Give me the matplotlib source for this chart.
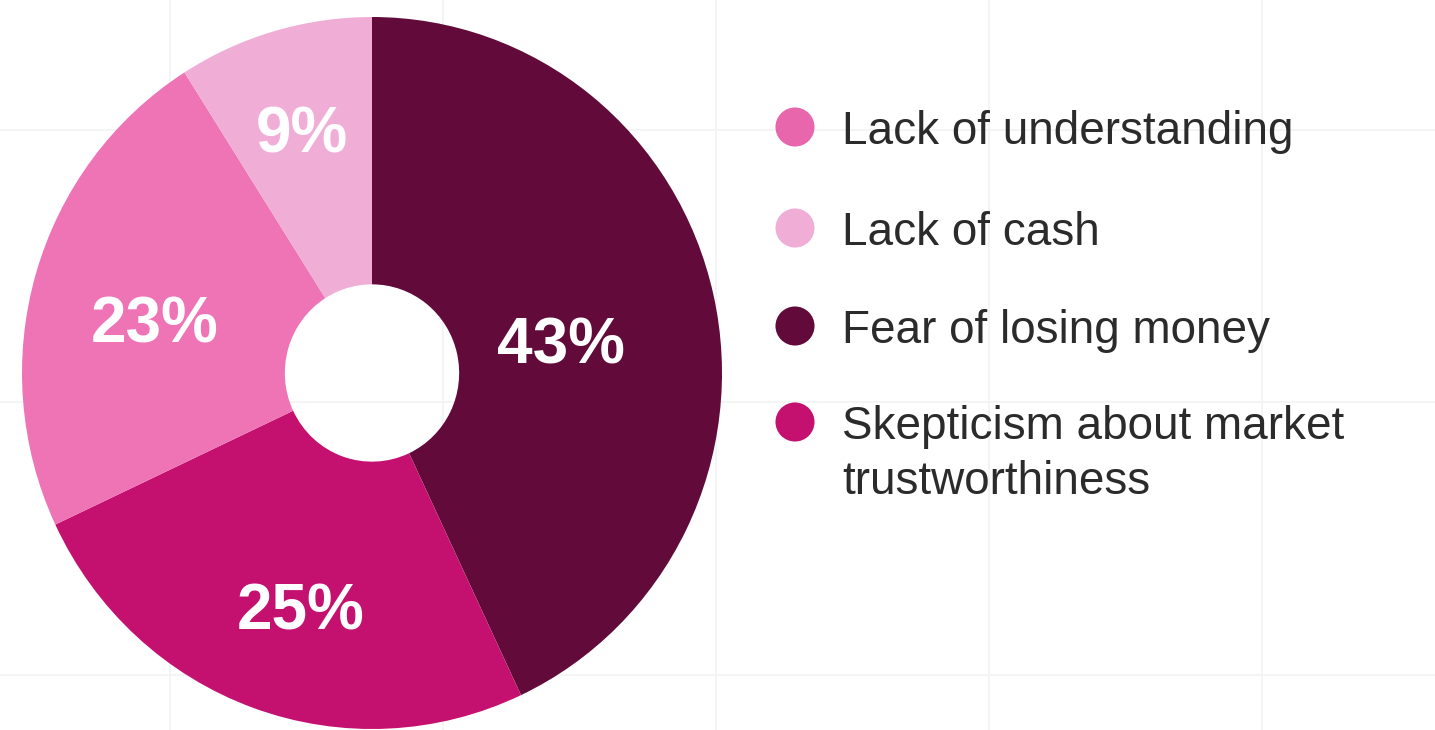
import matplotlib.pyplot as plt
import matplotlib.transforms as mtransforms
import numpy as np

# survey shares, drawn clockwise from 12 o'clock
slices = ["Fear of losing money", "Skepticism about market\ntrustworthiness",
          "Lack of understanding", "Lack of cash"]
shares = [43, 25, 23, 9]
colors = ["#620b3a", "#c41170", "#ef74b6", "#f0aed6"]

# legend order
legend_names = ["Lack of understanding", "Lack of cash",
                "Fear of losing money", "Skepticism about market\ntrustworthiness"]
legend_colors = ["#e866ac", "#f0aed6", "#620b3a", "#c41170"]

W, H = 1435, 730
fig = plt.figure(figsize=(W / 100, H / 100), dpi=100)
fig.patch.set_facecolor("white")

# faint background grid, in pixel units
bg = fig.add_axes([0, 0, 1, 1], zorder=0)
bg.set_xlim(0, W)
bg.set_ylim(H, 0)
bg.axis("off")
for gx in np.arange(170, W, 273):
    bg.axvline(gx, color="#f3f3f3", lw=1.3)
for gy in [130, 402, 675]:
    bg.axhline(gy, color="#f3f3f3", lw=1.3)

# donut (slightly taller than wide)
ax = fig.add_axes([22 / W, 1 / H, 700 / W, 712 / H], zorder=1)
ax.set_facecolor("none")
wedges, _ = ax.pie(shares, colors=colors, startangle=90, counterclock=False,
                   radius=1, wedgeprops=dict(width=0.751, linewidth=0))
ax.set_xlim(-1, 1)
ax.set_ylim(-1, 1)
ax.set_aspect("auto")
ax.axis("off")

# label radius and small angle nudge (deg) per slice
label_r = [0.548, 0.688, 0.638, 0.711]
label_nudge = [-3.0, 2.6, 2.7, 0.1]
pct_size = 46
# baseline sits half a cap height below the anchor point
pct_tr = mtransforms.offset_copy(ax.transData, fig=fig, y=-0.358 * pct_size,
                                 units="points")
for w, val, r, nd in zip(wedges, shares, label_r, label_nudge):
    mid = np.deg2rad((w.theta1 + w.theta2) / 2 + nd)
    ax.text(r * np.cos(mid), r * np.sin(mid), f"{val}%", color="white",
            fontsize=pct_size, fontweight="bold", family="Liberation Sans",
            ha="center", va="baseline", transform=pct_tr)

# legend, drawn by hand so the marker sits on the first line
lg = fig.add_axes([0, 0, 1, 1], zorder=2)
lg.set_xlim(0, W)
lg.set_ylim(H, 0)
lg.axis("off")
marker_y = [127, 228, 326, 422]
for name, c, y in zip(legend_names, legend_colors, marker_y):
    lg.scatter([795], [y], s=39 ** 2 * 0.52, color=c, edgecolors="none")
    for i, line in enumerate(name.split("\n")):
        lg.text(842, y + 17 + 55 * i, line, color="#2b2b2b", fontsize=33,
                family="Liberation Sans", ha="left", va="baseline")

fig.savefig("out.png", dpi=100)
